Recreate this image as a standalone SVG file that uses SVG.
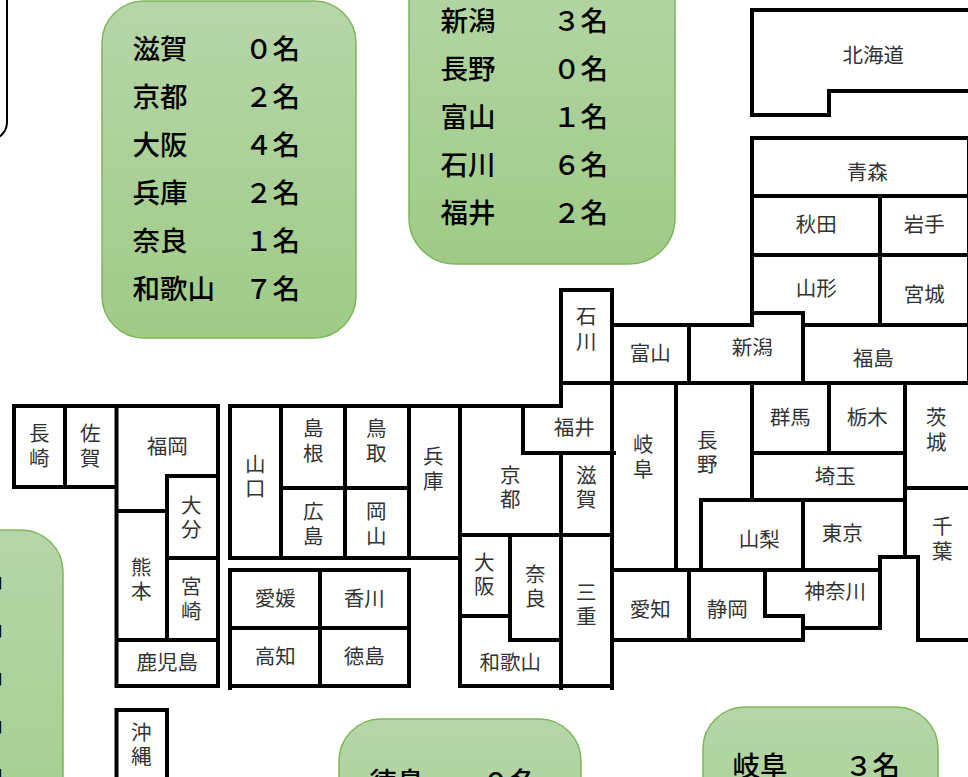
<svg xmlns="http://www.w3.org/2000/svg" width="968" height="777" viewBox="0 0 968 777">
<style>
text{font-family:"Noto Sans CJK JP","Noto Sans",sans-serif}
.l{font-size:20.500px;fill:#333;text-anchor:middle}
.s{font-size:27.500px;fill:#000;font-weight:500}
.b{stroke:#7fb55a;stroke-width:1.5;fill:url(#g)}
.w{fill:none;stroke:#000;stroke-width:4;stroke-linecap:square}
</style>
<defs><linearGradient id="g" x1="0" y1="0" x2="0" y2="1"><stop offset="0" stop-color="#b6d6a9"/><stop offset="1" stop-color="#9fcb86"/></linearGradient></defs>
<rect width="968" height="777" fill="#fff"/>
<rect id="corner-box" x="-100" y="-100" width="107" height="240" rx="18" fill="#fff" stroke="#000" stroke-width="2"/>
<g id="box-kinki"><rect class="b" x="102" y="1" width="254" height="337" rx="42"/>
<text class="s" x="132.500" y="59">滋賀</text><text class="s" x="245" y="59">０名</text>
<text class="s" x="132.500" y="107">京都</text><text class="s" x="245" y="107">２名</text>
<text class="s" x="132.500" y="155">大阪</text><text class="s" x="245" y="155">４名</text>
<text class="s" x="132.500" y="203">兵庫</text><text class="s" x="245" y="203">２名</text>
<text class="s" x="132.500" y="251">奈良</text><text class="s" x="245" y="251">１名</text>
<text class="s" x="132.500" y="299">和歌山</text><text class="s" x="245" y="299">７名</text></g>
<g id="box-chubu"><rect class="b" x="409" y="-60" width="266" height="324" rx="46"/>
<text class="s" x="440.500" y="31">新潟</text><text class="s" x="553" y="31">３名</text>
<text class="s" x="440.500" y="79">長野</text><text class="s" x="553" y="79">０名</text>
<text class="s" x="440.500" y="127">富山</text><text class="s" x="553" y="127">１名</text>
<text class="s" x="440.500" y="175">石川</text><text class="s" x="553" y="175">６名</text>
<text class="s" x="440.500" y="223">福井</text><text class="s" x="553" y="223">２名</text></g>
<g id="box-left"><rect class="b" x="-200" y="530" width="263" height="400" rx="42"/>
<text class="s" x="-23.500" y="587">名</text><text class="s" x="-23.500" y="635">名</text><text class="s" x="-23.500" y="683">名</text><text class="s" x="-23.500" y="731">名</text><text class="s" x="-23.500" y="779">名</text></g>
<g id="box-shikoku"><rect class="b" x="339" y="719" width="242" height="260" rx="42"/>
<text class="s" x="369.500" y="792">徳島</text><text class="s" x="482" y="792">０名</text></g>
<g id="box-tokai"><rect class="b" x="703" y="707" width="235" height="260" rx="42"/>
<text class="s" x="732.500" y="776">岐阜</text><text class="s" x="845" y="776">３名</text></g>
<g id="connectors" class="w"><path class="w" d="
M14 406H218V686H116.500V406M14 406V487H116.500M65 406V487M167 476H218M167 476V640M116.500 511H167M167 558H218M116.500 640H218
M116.500 710H167M116.500 710V790M167 710V790
M230 406H561M230 406V558H460M281 406V558M345 406V558M409 406V558M281 488H409M460 406V686H612M523 406V453H614M561 290H612V688M561 290V406M561 383H968M561 453V688M460 535H612M510 535V640H561M460 616H510
M230 570H409V686H230ZM230 686V688M320 570V686M230 628H409
M612 325H752V313H803V383M752 138V325M803 325H968M689 325V383
M676 383V570M752 383V500M829 383V453M752 453H905M701 500H905M701 500V570M803 500V570M905 383V557H880V628H803M612 570H880M803 616V640H612M765 570V616H803M689 570V640M880 557H918V640H968M905 488H968
M752 138H968M752 196H968M752 255H968M880 196V325M969 138V383
M752 10H968M752 10V115H829V91H968"/></g>
<g transform="translate(-0.800 0)">
<g id="n-hokkaido"><text class="l" x="874" y="63">北海道</text></g>
<g id="n-aomori"><text class="l" x="868" y="180">青森</text></g>
<g id="n-akita"><text class="l" x="817" y="232">秋田</text></g>
<g id="n-iwate"><text class="l" x="925" y="232">岩手</text></g>
<g id="n-yamagata"><text class="l" x="817" y="296">山形</text></g>
<g id="n-miyagi"><text class="l" x="925" y="302">宮城</text></g>
<g id="n-toyama"><text class="l" x="651" y="361">富山</text></g>
<g id="n-niigata"><text class="l" x="753" y="355">新潟</text></g>
<g id="n-fukushima"><text class="l" x="874" y="366">福島</text></g>
<g id="n-gunma"><text class="l" x="791" y="425">群馬</text></g>
<g id="n-tochigi"><text class="l" x="868" y="425">栃木</text></g>
<g id="n-saitama"><text class="l" x="836" y="484">埼玉</text></g>
<g id="n-yamanashi"><text class="l" x="760" y="547">山梨</text></g>
<g id="n-tokyo"><text class="l" x="843" y="541">東京</text></g>
<g id="n-kanagawa"><text class="l" x="836" y="599">神奈川</text></g>
<g id="n-aichi"><text class="l" x="651" y="617">愛知</text></g>
<g id="n-shizuoka"><text class="l" x="728" y="617">静岡</text></g>
<g id="n-fukui"><text class="l" x="575" y="435">福井</text></g>
<g id="n-fukuoka"><text class="l" x="168" y="454">福岡</text></g>
<g id="n-kagoshima"><text class="l" x="168" y="670">鹿児島</text></g>
<g id="n-ehime"><text class="l" x="276" y="606">愛媛</text></g>
<g id="n-kagawa"><text class="l" x="365" y="606">香川</text></g>
<g id="n-kochi"><text class="l" x="276" y="664">高知</text></g>
<g id="n-tokushima"><text class="l" x="365" y="664">徳島</text></g>
<g id="n-wakayama"><text class="l" x="511" y="670">和歌山</text></g>
<g id="n-ishikawa"><text class="l"><tspan x="587" y="324">石</tspan><tspan x="587" y="349">川</tspan></text></g>
<g id="n-gifu"><text class="l"><tspan x="644" y="452">岐</tspan><tspan x="644" y="477">阜</tspan></text></g>
<g id="n-nagano"><text class="l"><tspan x="708" y="448">長</tspan><tspan x="708" y="472">野</tspan></text></g>
<g id="n-ibaraki"><text class="l"><tspan x="937" y="425">茨</tspan><tspan x="937" y="450">城</tspan></text></g>
<g id="n-chiba"><text class="l"><tspan x="943" y="534">千</tspan><tspan x="943" y="559">葉</tspan></text></g>
<g id="n-nagasaki"><text class="l"><tspan x="40" y="441">長</tspan><tspan x="40" y="466">崎</tspan></text></g>
<g id="n-saga"><text class="l"><tspan x="91" y="441">佐</tspan><tspan x="91" y="466">賀</tspan></text></g>
<g id="n-oita"><text class="l"><tspan x="192" y="513">大</tspan><tspan x="192" y="537">分</tspan></text></g>
<g id="n-kumamoto"><text class="l"><tspan x="142" y="575">熊</tspan><tspan x="142" y="599">本</tspan></text></g>
<g id="n-miyazaki"><text class="l"><tspan x="192" y="594">宮</tspan><tspan x="192" y="619">崎</tspan></text></g>
<g id="n-okinawa"><text class="l"><tspan x="142" y="740">沖</tspan><tspan x="142" y="764">縄</tspan></text></g>
<g id="n-yamaguchi"><text class="l"><tspan x="256" y="472">山</tspan><tspan x="256" y="496">口</tspan></text></g>
<g id="n-shimane"><text class="l"><tspan x="314" y="436">島</tspan><tspan x="314" y="461">根</tspan></text></g>
<g id="n-tottori"><text class="l"><tspan x="377" y="436">鳥</tspan><tspan x="377" y="461">取</tspan></text></g>
<g id="n-hiroshima"><text class="l"><tspan x="314" y="519">広</tspan><tspan x="314" y="544">島</tspan></text></g>
<g id="n-okayama"><text class="l"><tspan x="377" y="519">岡</tspan><tspan x="377" y="544">山</tspan></text></g>
<g id="n-hyogo"><text class="l"><tspan x="434" y="464">兵</tspan><tspan x="434" y="489">庫</tspan></text></g>
<g id="n-kyoto"><text class="l"><tspan x="511" y="483">京</tspan><tspan x="511" y="507">都</tspan></text></g>
<g id="n-shiga"><text class="l"><tspan x="587" y="483">滋</tspan><tspan x="587" y="507">賀</tspan></text></g>
<g id="n-osaka"><text class="l"><tspan x="485" y="570">大</tspan><tspan x="485" y="594">阪</tspan></text></g>
<g id="n-nara"><text class="l"><tspan x="536" y="582">奈</tspan><tspan x="536" y="606">良</tspan></text></g>
<g id="n-mie"><text class="l"><tspan x="587" y="600">三</tspan><tspan x="587" y="624">重</tspan></text></g>
</g>
</svg>
